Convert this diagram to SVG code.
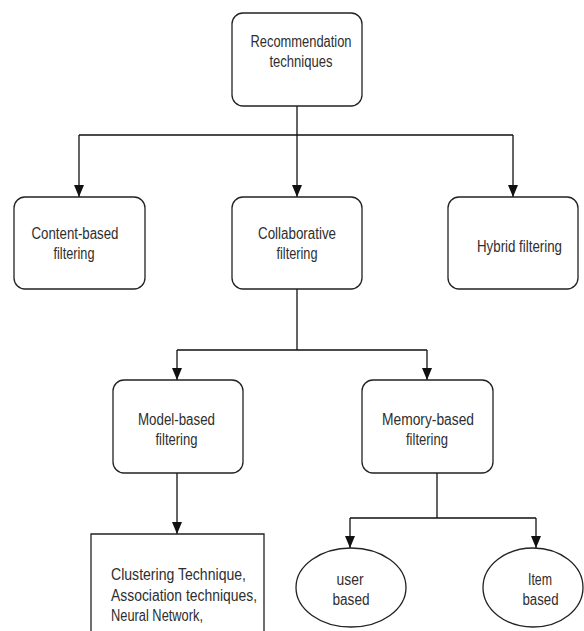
<svg xmlns="http://www.w3.org/2000/svg" width="584" height="631" viewBox="0 0 584 631">
<style>
.box{fill:#fff;stroke:#222;stroke-width:1.3}
.ln{fill:none;stroke:#111;stroke-width:1.3}
.arr{fill:none;stroke:#111;stroke-width:1.3;marker-end:url(#ah)}
text{font-family:"Liberation Sans",Arial,sans-serif;font-size:16px;fill:#2e2e2e}
.c{text-anchor:middle}
</style>
<defs>
<marker id="ah" markerUnits="userSpaceOnUse" markerWidth="12" markerHeight="10" viewBox="0 0 12 10" refX="12" refY="5" orient="auto">
<path d="M0,0 L12,5 L0,10 Z" fill="#111"/>
</marker>
</defs>
<rect width="584" height="631" fill="#fff"/>
<g id="connectors">
<path class="ln" d="M297,106 V135 M79,135 H513"/>
<path class="arr" d="M79,135 V197"/>
<path class="arr" d="M297,135 V197"/>
<path class="arr" d="M513,135 V197"/>
<path class="ln" d="M297,289 V350 M177,350 H427"/>
<path class="arr" d="M177,350 V380"/>
<path class="arr" d="M427,350 V380"/>
<path class="ln" d="M437,473 V518 M350,518 H536"/>
<path class="arr" d="M350,518 V548"/>
<path class="arr" d="M536,518 V548"/>
<path class="arr" d="M177,473 V534"/>
</g>
<g id="recommendation">
<rect class="box" x="232" y="13" width="130" height="93" rx="11"/>
<text class="c" x="301" y="47" textLength="101" lengthAdjust="spacingAndGlyphs">Recommendation</text>
<text class="c" x="301" y="67" textLength="63" lengthAdjust="spacingAndGlyphs">techniques</text>
</g>
<g id="content">
<rect class="box" x="14" y="197" width="131" height="92" rx="11"/>
<text class="c" x="75" y="239" textLength="87" lengthAdjust="spacingAndGlyphs">Content-based</text>
<text class="c" x="74" y="259" textLength="41" lengthAdjust="spacingAndGlyphs">filtering</text>
</g>
<g id="collaborative">
<rect class="box" x="232" y="197" width="130" height="92" rx="11"/>
<text class="c" x="297" y="239" textLength="78" lengthAdjust="spacingAndGlyphs">Collaborative</text>
<text class="c" x="297" y="259" textLength="41" lengthAdjust="spacingAndGlyphs">filtering</text>
</g>
<g id="hybrid">
<rect class="box" x="448" y="197" width="130" height="92" rx="11"/>
<text class="c" x="519.5" y="252" textLength="85" lengthAdjust="spacingAndGlyphs">Hybrid filtering</text>
</g>
<g id="model">
<rect class="box" x="113" y="380" width="130" height="93" rx="11"/>
<text class="c" x="176.5" y="425" textLength="77" lengthAdjust="spacingAndGlyphs">Model-based</text>
<text class="c" x="176.5" y="445" textLength="42" lengthAdjust="spacingAndGlyphs">filtering</text>
</g>
<g id="memory">
<rect class="box" x="362" y="380" width="131" height="93" rx="11"/>
<text class="c" x="428" y="425" textLength="92" lengthAdjust="spacingAndGlyphs">Memory-based</text>
<text class="c" x="427" y="445" textLength="42" lengthAdjust="spacingAndGlyphs">filtering</text>
</g>
<g id="techniques">
<path class="box" d="M91,631 V534 H264 V631" fill="none"/>
<text x="111" y="580" textLength="135" lengthAdjust="spacingAndGlyphs">Clustering Technique,</text>
<text x="111" y="601" textLength="146" lengthAdjust="spacingAndGlyphs">Association techniques,</text>
<text x="111" y="621" textLength="92" lengthAdjust="spacingAndGlyphs">Neural Network,</text>
</g>
<g id="user">
<ellipse class="box" cx="351" cy="587.5" rx="55" ry="39.5"/>
<text class="c" x="350" y="585" textLength="27" lengthAdjust="spacingAndGlyphs">user</text>
<text class="c" x="351" y="605" textLength="37" lengthAdjust="spacingAndGlyphs">based</text>
</g>
<g id="item">
<ellipse class="box" cx="533" cy="587.5" rx="50" ry="39.5"/>
<text class="c" x="540" y="585" textLength="24" lengthAdjust="spacingAndGlyphs">Item</text>
<text class="c" x="540.5" y="605" textLength="36" lengthAdjust="spacingAndGlyphs">based</text>
</g>
</svg>
